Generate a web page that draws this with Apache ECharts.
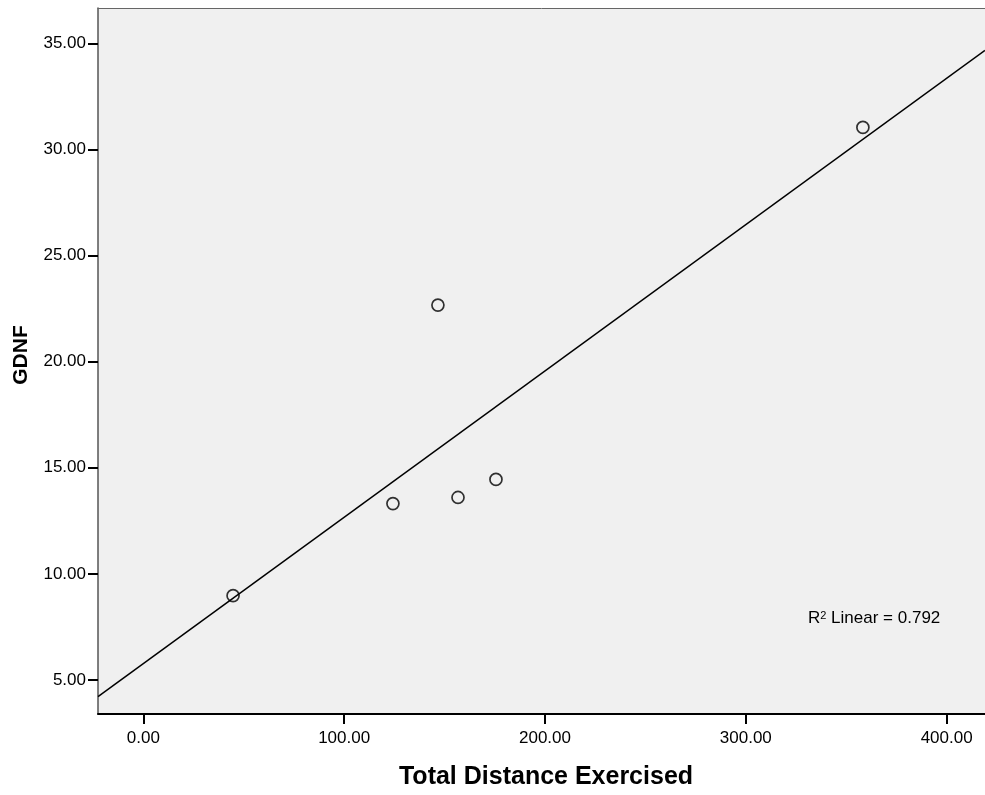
<!DOCTYPE html>
<html>
<head>
<meta charset="utf-8">
<script src="https://cdn.jsdelivr.net/npm/echarts@6/dist/echarts.min.js"></script>
<style>
  html, body { margin: 0; padding: 0; background: #ffffff; }
  #chart { width: 985px; height: 795px; }
</style>
</head>
<body>
<div id="chart"></div>
<script>
// Total distance exercised vs. GDNF
const distance = [44.7, 124.3, 146.7, 156.7, 175.6, 358.3];
const gdnf = [8.97, 13.31, 22.67, 13.60, 14.45, 31.05];
const xTicks = [0, 100, 200, 300, 400];
const yTicks = [5, 10, 15, 20, 25, 30, 35];
const xRange = [-22.55, 419.1];
const yRange = [3.39, 36.68];

// Least-squares fit line
const n = distance.length;
const mx = distance.reduce((a, b) => a + b, 0) / n;
const my = gdnf.reduce((a, b) => a + b, 0) / n;
let sxy = 0, sxx = 0;
for (let i = 0; i < n; i++) {
  sxy += (distance[i] - mx) * (gdnf[i] - my);
  sxx += (distance[i] - mx) * (distance[i] - mx);
}
const slope = sxy / sxx;
const intercept = my - slope * mx;
const fitLine = xRange.map(x => [x, intercept + slope * x]);

const font = 'Liberation Sans, Arial, sans-serif';
const chart = echarts.init(document.getElementById('chart'));
chart.setOption({
  animation: false,
  grid: {
    left: 98, right: 0, top: 8, bottom: 79,
    show: true,
    backgroundColor: '#f0f0f0',
    borderWidth: 0
  },
  xAxis: [
    {
      type: 'value',
      min: xRange[0], max: xRange[1],
      name: 'Total Distance Exercised',
      nameLocation: 'middle',
      nameGap: 51,
      nameTextStyle: {
        fontFamily: font, fontSize: 25, fontWeight: 'bold', color: '#000',
        padding: [0, 0, 0, 9]
      },
      axisLine: { show: true, onZero: false, lineStyle: { color: '#000', width: 2 } },
      axisTick: { show: true, length: 10, customValues: xTicks, lineStyle: { color: '#000', width: 2 } },
      axisLabel: {
        customValues: xTicks,
        formatter: v => v.toFixed(2),
        fontFamily: font, fontSize: 17, color: '#000', margin: 16
      },
      splitLine: { show: false }
    },
    {
      // top frame edge of the plot area
      type: 'value',
      position: 'top',
      min: xRange[0], max: xRange[1],
      axisLine: { show: true, onZero: false, lineStyle: { color: '#666', width: 1 } },
      axisTick: { show: false },
      axisLabel: { show: false },
      splitLine: { show: false }
    }
  ],
  yAxis: {
    type: 'value',
    min: yRange[0], max: yRange[1],
    name: 'GDNF',
    nameLocation: 'middle',
    nameRotate: 90,
    nameGap: 66,
    nameTextStyle: {
      fontFamily: font, fontSize: 21, fontWeight: 'bold', color: '#000',
      padding: [0, 0, 0, 12]
    },
    axisLine: { show: true, onZero: false, lineStyle: { color: '#555', width: 1.5 } },
    axisTick: { show: true, length: 10, customValues: yTicks, lineStyle: { color: '#000', width: 2 } },
    axisLabel: {
      customValues: yTicks,
      formatter: v => v.toFixed(2),
      fontFamily: font, fontSize: 17, color: '#000', margin: 12
    },
    splitLine: { show: false }
  },
  series: [
    {
      type: 'line',
      data: fitLine,
      showSymbol: false,
      lineStyle: { color: '#000', width: 1.5 },
      silent: true,
      z: 2
    },
    {
      type: 'scatter',
      data: distance.map((x, i) => [x, gdnf[i]]),
      symbol: 'circle',
      symbolSize: 12,
      itemStyle: { color: 'rgba(0,0,0,0)', borderColor: '#000', borderWidth: 1.7 },
      z: 3
    }
  ],
  graphic: [{
    type: 'text',
    left: 808,
    top: 610,
    style: {
      text: '{a|R}{s|2}{a| Linear = 0.792}',
      fontFamily: font,
      fill: '#000',
      rich: {
        a: { fontFamily: font, fontSize: 17, color: '#000' },
        s: { fontFamily: font, fontSize: 11, color: '#000', verticalAlign: 'top' }
      }
    }
  }]
});
</script>
</body>
</html>
